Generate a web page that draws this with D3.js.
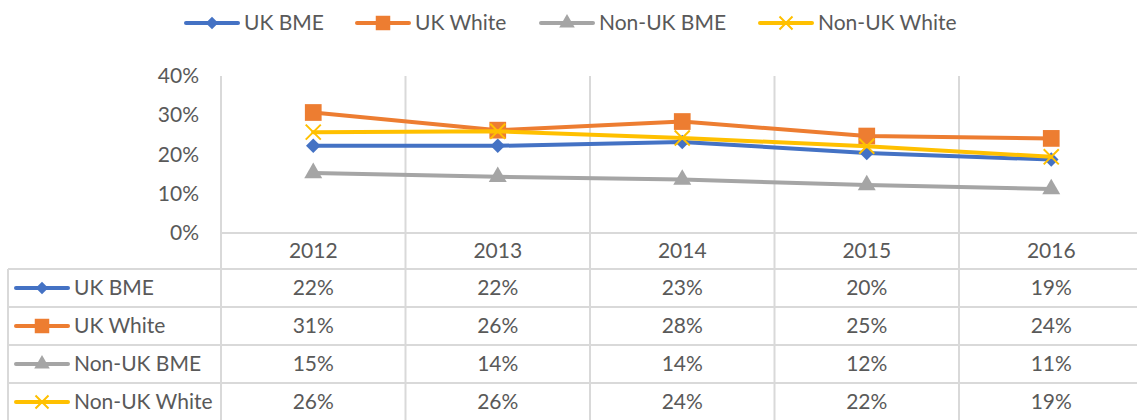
<!DOCTYPE html>
<html>
<head>
<meta charset="utf-8">
<script src="https://cdn.jsdelivr.net/npm/d3@7"></script>
<style>
  body { margin: 0; background: #fff; }
  text { font-family: Lato, "Open Sans", sans-serif; fill: #595959; }
</style>
</head>
<body>
<div id="chart"></div>
<script>
// years along the x axis
var years = ["2012", "2013", "2014", "2015", "2016"];
var seriesNames = ["UK BME", "UK White", "Non-UK BME", "Non-UK White"];
// share of each group
var ukBme = [0.222, 0.222, 0.232, 0.204, 0.187];
var ukWhite = [0.307, 0.262, 0.284, 0.247, 0.241];
var nonUkBme = [0.153, 0.143, 0.136, 0.122, 0.112];
var nonUkWhite = [0.257, 0.259, 0.242, 0.221, 0.194];
var yTicks = [0, 0.1, 0.2, 0.3, 0.4];

var colors = ["#4472C4", "#ED7D31", "#A5A5A5", "#FFC000"];
var shapes = ["diamond", "square", "triangle", "x"];
var allValues = [ukBme, ukWhite, nonUkBme, nonUkWhite];

var series = seriesNames.map(function(name, i) {
  return { name: name, values: allValues[i], color: colors[i], shape: shapes[i] };
});

var svgWidth = 1137, svgHeight = 420;
var plotTop = 76, plotBottom = 233;
var gridColor = "#d9d9d9";
var fontSize = "21px";

var svg = d3.select("#chart").append("svg")
  .attr("width", svgWidth)
  .attr("height", svgHeight);

var x = d3.scaleBand().domain(years).range([221, 221 + 5 * 184.5]).padding(0);
var y = d3.scaleLinear().domain([0, 0.4]).range([plotBottom, plotTop]);
var pct = d3.format(".0%");

// table rows below the axis
var rowTop = 269, rowH = 38;
var tableRight = x.range()[1];

// vertical cell borders, running up through the plot
var edges = years.map(function(d) { return x(d); }).concat([tableRight]);
svg.selectAll("line.vgrid").data(edges).enter().append("line")
  .attr("class", "vgrid")
  .attr("x1", d => d).attr("x2", d => d)
  .attr("y1", plotTop).attr("y2", svgHeight + 2)
  .attr("stroke", gridColor).attr("stroke-width", 2);

// horizontal axis line
svg.append("line")
  .attr("x1", x.range()[0]).attr("x2", tableRight)
  .attr("y1", plotBottom).attr("y2", plotBottom)
  .attr("stroke", gridColor).attr("stroke-width", 2);

// table lines
var rowLines = d3.range(series.length + 1).map(i => rowTop + i * rowH);
svg.selectAll("line.hrow").data(rowLines).enter().append("line")
  .attr("class", "hrow")
  .attr("x1", 8).attr("x2", tableRight)
  .attr("y1", d => d).attr("y2", d => d)
  .attr("stroke", gridColor).attr("stroke-width", 2);
svg.append("line")
  .attr("x1", 8).attr("x2", 8)
  .attr("y1", rowTop).attr("y2", svgHeight + 2)
  .attr("stroke", gridColor).attr("stroke-width", 2);

// y axis labels
var yAxis = svg.append("g")
  .attr("transform", "translate(199,0)")
  .call(d3.axisLeft(y).tickValues(yTicks).tickFormat(pct).tickSize(0).tickPadding(0));
yAxis.select(".domain").remove();
yAxis.selectAll("text")
  .style("font-size", fontSize)
  .style("font-family", "Lato, 'Open Sans', sans-serif")
  .attr("fill", "#595959");

// year labels (header row)
svg.selectAll("text.year").data(years).enter().append("text")
  .attr("class", "year")
  .attr("x", d => x(d) + x.bandwidth() / 2)
  .attr("y", 251)
  .attr("dy", "0.35em")
  .attr("text-anchor", "middle")
  .style("font-size", fontSize)
  .text(d => d);

function markerPath(shape, k) {
  if (shape === "diamond") return d3.symbol(d3.symbolSquare, 105 * k)();
  if (shape === "square") return d3.symbol(d3.symbolSquare, 280 * k)();
  if (shape === "triangle") return d3.symbol(d3.symbolTriangle, 140 * k)();
  return d3.symbol(d3.symbolTimes, 150 * k)();
}

function drawMarker(g, s, cx, cy, k) {
  var p = g.append("path")
    .attr("d", markerPath(s.shape, k))
    .attr("transform", "translate(" + cx + "," + cy + ")" + (s.shape === "diamond" ? " rotate(45)" : ""));
  if (s.shape === "x") {
    p.attr("fill", "none").attr("stroke", s.color).attr("stroke-width", 2);
  } else {
    p.attr("fill", s.color);
  }
}

// series lines
var line = d3.line()
  .x((d, i) => x(years[i]) + x.bandwidth() / 2)
  .y(d => y(d));

var lines = svg.append("g");
series.forEach(function(s) {
  var g = lines.append("g");
  g.append("path")
    .attr("d", line(s.values))
    .attr("fill", "none")
    .attr("stroke", s.color)
    .attr("stroke-width", 4)
    .attr("stroke-linejoin", "round")
    .attr("stroke-linecap", "round");
  s.values.forEach(function(v, i) {
    drawMarker(g, s, x(years[i]) + x.bandwidth() / 2, y(v), 1);
  });
});

// legend keys
function legendKey(g, s, cx, cy) {
  g.append("line")
    .attr("x1", cx - 26).attr("x2", cx + 26)
    .attr("y1", cy).attr("y2", cy)
    .attr("stroke", s.color).attr("stroke-width", 4)
    .attr("stroke-linecap", "round");
  drawMarker(g, s, cx, cy, 0.75);
  g.append("text")
    .attr("x", cx + 32).attr("y", cy)
    .attr("dy", "0.35em")
    .style("font-size", fontSize)
    .text(s.name);
}

// top legend
var legendX = [212, 383, 567, 786];
var legend = svg.append("g");
series.forEach(function(s, i) { legendKey(legend, s, legendX[i], 23); });

// table rows
var table = svg.append("g");
series.forEach(function(s, r) {
  var cy = rowTop + r * rowH + rowH / 2;
  legendKey(table, s, 42, cy);
  s.values.forEach(function(v, i) {
    table.append("text")
      .attr("x", x(years[i]) + x.bandwidth() / 2)
      .attr("y", cy)
      .attr("dy", "0.35em")
      .attr("text-anchor", "middle")
      .style("font-size", fontSize)
      .text(pct(v));
  });
});
</script>
</body>
</html>
